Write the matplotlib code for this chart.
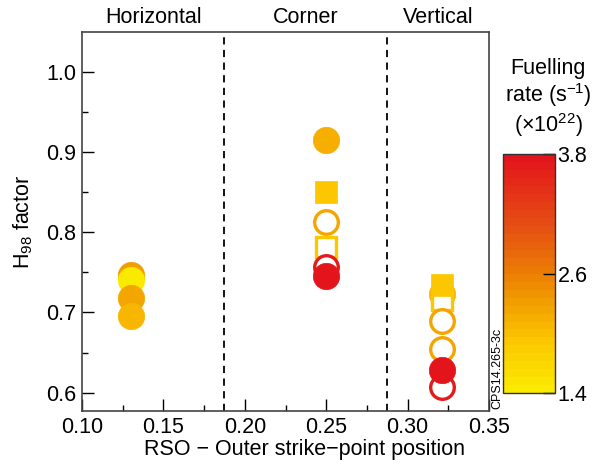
import matplotlib
matplotlib.use("Agg")
import matplotlib.pyplot as plt
import numpy as np
from matplotlib.colors import LinearSegmentedColormap, Normalize

plt.rcParams['font.family'] = ['Liberation Sans', 'DejaVu Sans']
plt.rcParams['mathtext.fontset'] = 'custom'
plt.rcParams['mathtext.rm'] = 'Liberation Sans'
plt.rcParams['mathtext.it'] = 'Liberation Sans:italic'

# Data
rso = [0.13, 0.13, 0.13, 0.13,
       0.25, 0.25, 0.25, 0.25, 0.25, 0.25,
       0.321, 0.321, 0.321, 0.321, 0.321, 0.321, 0.321]
h98 = [0.747, 0.740, 0.718, 0.695,
       0.915, 0.851, 0.813, 0.782, 0.757, 0.745,
       0.723, 0.716, 0.734, 0.690, 0.655, 0.607, 0.628]
rate = [2.3, 1.45, 2.2, 2.1,
        2.15, 1.9, 2.2, 1.95, 3.7, 3.75,
        2.1, 1.95, 1.95, 2.2, 2.2, 3.7, 3.75]
shape = ['o', 'o', 'o', 'o',
         'o', 's', 'o', 's', 'o', 'o',
         'o', 's', 's', 'o', 'o', 'o', 'o']
filled = [True, True, True, True,
          True, True, False, False, False, True,
          True, False, True, False, False, False, True]
regions = ['Horizontal', 'Corner', 'Vertical']
region_edges = [0.1875, 0.2875]
cbar_ticks = [1.4, 2.6, 3.8]

cmap = LinearSegmentedColormap.from_list(
    'fuel', [(0.0, '#FAEA00'), (0.2, '#FCC800'), (0.36, '#F3A200'),
             (0.5, '#EC7E04'), (0.7, '#E65014'), (1.0, '#E3141B')], N=30)
norm = Normalize(1.4, 3.8)

FS = 15.5

fig = plt.figure(figsize=(6.03, 4.66), dpi=100)
ax = fig.add_axes([0.136, 0.118, 0.675, 0.813])

for x, y, r, m, f in zip(rso, h98, rate, shape, filled):
    c = cmap(norm(r))
    size = 19 if m == 'o' else 16
    if f:
        ax.plot([x], [y], marker=m, ms=size, mfc=c, mec=c, mew=0.5, ls='none')
    else:
        ax.plot([x], [y], marker=m, ms=size - 2, mfc='white', mec=c, mew=2.4, ls='none')

for xe in region_edges:
    ax.axvline(xe, color='black', ls=(0, (4, 3)), lw=1.3)

ax.set_xlim(0.10, 0.35)
ax.set_ylim(0.577, 1.05)
ax.set_xticks([0.10, 0.15, 0.20, 0.25, 0.30, 0.35])
ax.set_xticklabels(['0.10', '0.15', '0.20', '0.25', '0.30', '0.35'])
ax.set_xticks([0.125, 0.175, 0.225, 0.275, 0.325], minor=True)
ax.set_yticks([0.6, 0.7, 0.8, 0.9, 1.0])
ax.set_yticklabels(['0.6', '0.7', '0.8', '0.9', '1.0'])
ax.set_yticks([0.65, 0.75, 0.85, 0.95], minor=True)
ax.tick_params(which='major', direction='in', length=8.5, width=1.0, labelsize=FS, pad=4)
ax.tick_params(which='minor', direction='in', length=4.3, width=1.0)
ax.tick_params(top=False, right=False, which='both')
for s in ax.spines.values():
    s.set_color('#444444')
    s.set_linewidth(1.2)

fig.text(305 / 603, 1 - 449 / 466, 'RSO \u2212 Outer strike\u2212point position',
         ha='center', va='center', fontsize=FS)
ax.set_ylabel('H$_{98}$ factor', fontsize=FS, labelpad=8)

xc = [(0.10 + region_edges[0]) / 2, (region_edges[0] + region_edges[1]) / 2,
      (region_edges[1] + 0.35) / 2]
for xx, name in zip(xc, regions):
    ax.text(xx, 1.01, name, transform=ax.get_xaxis_transform(),
            ha='center', va='bottom', fontsize=FS)

cax = fig.add_axes([0.834, 0.156, 0.086, 0.5135])
sm = matplotlib.cm.ScalarMappable(norm=norm, cmap=cmap)
cb = fig.colorbar(sm, cax=cax, ticks=cbar_ticks)
cb.ax.set_yticklabels(['1.4', '2.6', '3.8'])
cb.ax.tick_params(direction='in', length=8.5, width=1.0, labelsize=FS, pad=2)
cb.outline.set_linewidth(1.0)
cb.outline.set_color('#333333')

fig.text(548 / 603, 1 - 58 / 466, 'Fuelling\nrate (s$^{-1}$)\n(\u00d710$^{22}$)',
         ha='center', va='top', fontsize=FS, linespacing=1.1)
fig.text(497 / 603, 1 - 409 / 466, 'CPS14.265-3c', rotation=90,
         ha='center', va='bottom', fontsize=9)

fig.savefig('out.png', dpi=100)
